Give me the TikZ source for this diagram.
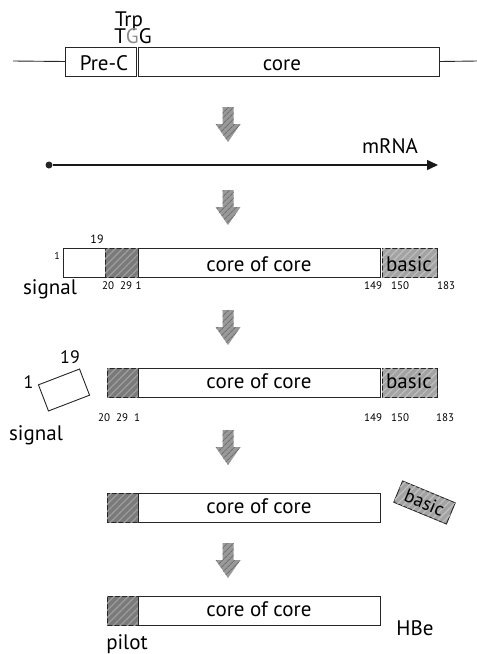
\documentclass[tikz,border=0pt]{standalone}
\usepackage{fontspec}
\setmainfont{PT Sans}
\usetikzlibrary{patterns.meta,arrows.meta}
\begin{document}
\begin{tikzpicture}[x=1pt,y=-1pt,
  box/.style={draw=black!85, line width=0.9pt, fill=white, inner sep=0pt,
    outer sep=0pt, anchor=north west, minimum height=29pt},
  pilotfill/.style={fill=black!52,
    postaction={pattern={Lines[angle=45,distance=5pt,line width=1.2pt]},
      pattern color=black!38}},
  basicfill/.style={fill=black!36,
    postaction={pattern={Lines[angle=45,distance=5pt,line width=1.2pt]},
      pattern color=black!25}},
  big/.style={inner sep=0pt, font=\fontsize{21}{24}\selectfont},
  num/.style={inner sep=0pt, anchor=base, font=\fontsize{11}{13}\selectfont},
  arrowfill/.style={fill=black!40,
    postaction={pattern={Lines[angle=45,distance=4pt,line width=1pt]},
      pattern color=black!56}},
  downarrow/.pic={\path[arrowfill] (-5.5,0) -- (5.5,0) -- (5.5,17) -- (12.5,17)
      -- (0,35) -- (-12.5,17) -- (-5.5,17) -- cycle;}
]
\useasboundingbox (0,0) rectangle (477,654);

% gene: Pre-C and core
\coordinate (gl) at (13,61);
\coordinate (gr) at (477,61);
\node[box, minimum width=71] (prec) at (65,47) {};
\node[box, minimum width=301] (gcore) at (138.5,47) {};
\draw[line width=0.9pt, black!85] (gl) -- (prec.west);
\draw[line width=0.9pt, black!85] (gcore.east) -- (gr);
\node[big, anchor=base] (precl) at (104,70) {Pre-C};
\node[big, anchor=base] (corel) at (282,70) {core};
\node[big, anchor=base] (trp) at (129,26) {Trp};
\node[big, anchor=base] (tgg) at (133,43) {T\textcolor{black!45}{G}G};

\pic at (228,107) {downarrow};

% mRNA
\node[circle, fill=black!85, inner sep=0pt, minimum size=7pt] (m0) at (49,165) {};
\coordinate (m1) at (438,165);
\draw[line width=1.5pt, black!90, -{Triangle[length=11pt,width=10pt]}] (m0) -- (m1);
\node[big, anchor=base] (mrna) at (390,153) {mRNA};

\pic at (228,190) {downarrow};

% precursor
\node[box, minimum width=42] (s3) at (63,248) {};
\node[box, pilotfill, minimum width=33] (p3) at (105,248) {};
\node[box, minimum width=242] (c3) at (138,248) {};
\node[box, basicfill, minimum width=55] (b3) at (382,248) {};
\node[big, anchor=base] (c3l) at (259,271) {core of core};
\node[big, anchor=base] (b3l) at (409,271) {basic};
\node[num, font=\fontsize{12}{14}\selectfont] (n3a) at (97,243) {19};
\node[num, font=\fontsize{10}{12}\selectfont] (n3b) at (57,259) {1};
\node[big, anchor=base] (sig3) at (50,294) {signal};
\node[num] (n3c) at (108,289) {20};
\node[num] (n3d) at (126,289) {29};
\node[num] (n3e) at (138.5,289) {1};
\node[num] (n3f) at (373,289) {149};
\node[num] (n3g) at (400,289) {150};
\node[num] (n3h) at (446,289) {183};

\pic at (228,310) {downarrow};

% signal peptide cleaved
\node[draw=black!85, line width=0.9pt, fill=white, minimum width=44pt,
  minimum height=28pt, inner sep=0pt, rotate=21] (s4) at (64,390) {};
\node[num, font=\fontsize{18}{20}\selectfont] (n4a) at (70,363) {19};
\node[num, font=\fontsize{18}{20}\selectfont] (n4b) at (28.5,388) {1};
\node[big, anchor=base] (sig4) at (36,440) {signal};
\node[box, pilotfill, minimum width=31] (p4) at (107,368) {};
\node[box, minimum width=242] (c4) at (138,368) {};
\node[box, basicfill, minimum width=55] (b4) at (382,368) {};
\node[big, anchor=base] (c4l) at (259,388) {core of core};
\node[big, anchor=base] (b4l) at (409,388) {basic};
\node[num] (n4c) at (104,421) {20};
\node[num] (n4d) at (122,421) {29};
\node[num] (n4e) at (137,421) {1};
\node[num] (n4f) at (373,421) {149};
\node[num] (n4g) at (400,421) {150};
\node[num] (n4h) at (445,421) {183};

\pic at (228,430) {downarrow};

% basic domain cleaved
\node[box, pilotfill, minimum width=31] (p5) at (107,493) {};
\node[box, minimum width=242] (c5) at (138,493) {};
\node[big, anchor=base] (c5l) at (259,513) {core of core};
\node[draw=black!85, line width=0.9pt, basicfill, minimum width=57pt,
  minimum height=23pt, inner sep=0pt, rotate=-22.5,
  font=\fontsize{19}{22}\selectfont] (b5) at (424.5,502.5) {basic};

\pic at (228,543) {downarrow};

% HBe
\node[box, pilotfill, minimum width=31] (p6) at (107,596) {};
\node[box, minimum width=242] (c6) at (138,596) {};
\node[big, anchor=base] (c6l) at (259,616) {core of core};
\node[big, anchor=base] (hbe) at (415,635) {HBe};
\node[big, anchor=base] (pilot) at (127,649) {pilot};
\end{tikzpicture}
\end{document}
